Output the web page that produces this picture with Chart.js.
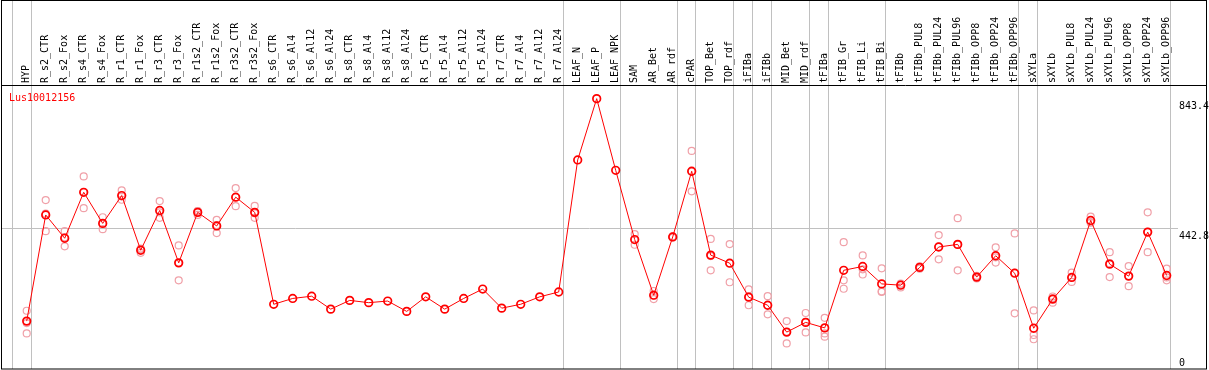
<!DOCTYPE html>
<html>
<head>
<meta charset="utf-8">
<script src="https://cdn.jsdelivr.net/npm/chart.js@4"></script>
<style>
  body { margin: 0; background: #fff; }
  #wrap { width: 1209px; height: 370px; }
</style>
</head>
<body>
<div id="wrap"><canvas id="exprChart" width="1209" height="370"></canvas></div>
<script>
/* ---------- Data ---------- */
const geneName = "Lus10012156";

const samples = [
    "HYP", "R_s2_CTR", "R_s2_Fox", "R_s4_CTR", "R_s4_Fox", "R_r1_CTR", "R_r1_Fox",
    "R_r3_CTR", "R_r3_Fox", "R_r1s2_CTR", "R_r1s2_Fox", "R_r3s2_CTR", "R_r3s2_Fox",
    "R_s6_CTR", "R_s6_Al4", "R_s6_Al12", "R_s6_Al24", "R_s8_CTR", "R_s8_Al4", "R_s8_Al12",
    "R_s8_Al24", "R_r5_CTR", "R_r5_Al4", "R_r5_Al12", "R_r5_Al24", "R_r7_CTR", "R_r7_Al4",
    "R_r7_Al12", "R_r7_Al24", "LEAF_N", "LEAF_P", "LEAF_NPK", "SAM", "AR_Bet", "AR_rdf",
    "cPAR", "TOP_Bet", "TOP_rdf", "iFIBa", "iFIBb", "MID_Bet", "MID_rdf", "tFIBa",
    "tFIB_Gr", "tFIB_Li", "tFIB_Bi", "tFIBb", "tFIBb_PUL8", "tFIBb_PUL24", "tFIBb_PUL96",
    "tFIBb_OPP8", "tFIBb_OPP24", "tFIBb_OPP96", "sXYLa", "sXYLb", "sXYLb_PUL8",
    "sXYLb_PUL24", "sXYLb_PUL96", "sXYLb_OPP8", "sXYLb_OPP24", "sXYLb_OPP96"
];

const means = [
    156, 484, 412, 554, 458, 544, 375, 498, 336, 492, 450, 539, 492,
    208, 226, 233, 193, 220, 213, 218, 186, 231, 193, 226, 255, 196, 208, 231, 246,
    654, 843.4, 622, 408, 236, 416, 619, 360, 335, 230, 205, 122, 152, 135,
    313, 325, 271, 267, 322, 385, 393, 292, 358, 304, 134, 224, 291,
    467, 332, 295, 431, 297
];

const rep1 = [
    188, 530, 434, 603, 477, 560, 378, 527, 390, 496, 469, 567, 512,
    null, null, null, null, null, null, null, null, null, null, null, null, null, null, null, null,
    null, null, null, 425, 249, 418, 682, 410, 394, 254, 233, 156, 181, 166,
    400, 359, 319, 260, 318, 422, 474, 288, 384, 427, 189, 232, 306,
    479, 369, 326, 492, 318
];

const rep2 = [
    150, 434, 387, 505, 440, 531, 367, 475, 282, 484, 428, 511, 475,
    null, null, null, null, null, null, null, null, null, null, null, null, null, null, null, null,
    null, null, null, 392, 224, 414, 557, 313, 276, 205, 177, 87, 121, 118,
    282, 300, 248, 272, 325, 347, 313, 296, 337, 180, 113, 213, 277,
    462, 292, 264, 369, 282
];

const rep3 = [
    118, 488, 415, 554, 457, 541, 380, 492, 336, 496, 453, 539, 489,
    null, null, null, null, null, null, null, null, null, null, null, null, null, null, null, null,
    null, null, null, 407, 235, 416, 618, 357, 335, 231, 205, 123, 154, 108,
    256, 316, 246, 269, 323, 386, 392, 292, 353, 305, 100, 227, 290,
    460, 335, 295, 432, 291
];

// index of the last sample in each block (separator drawn right after it)
const groupEnds = [-1, 0, 28, 31, 34, 35, 37, 38, 39, 41, 42, 45, 52, 53, 60];

const yMax = 885.6;
const yMin = 8;
const yTickValues = [0, 442.8, 843.4];

/* ---------- Helpers ---------- */
const MONO = "'DejaVu Sans Mono', monospace";

function toPoints(arr) {
    return arr.map((v, i) => ({ x: i, y: v }));
}

/* ---------- Decorations ---------- */
const framePlugin = {
    id: "frame",
    beforeDatasetsDraw(chart) {
        const ctx = chart.ctx;
        const xs = chart.scales.x;
        ctx.save();
        ctx.strokeStyle = "#c0c0c0";
        ctx.lineWidth = 1;
        groupEnds.forEach(i => {
            const px = Math.round(xs.getPixelForValue(i + 0.2)) + 0.5;
            ctx.beginPath();
            ctx.moveTo(px, 0);
            ctx.lineTo(px, chart.chartArea.bottom);
            ctx.stroke();
        });
        ctx.restore();
    },
    afterDraw(chart) {
        const ctx = chart.ctx;
        const area = chart.chartArea;
        const ys = chart.scales.y;
        ctx.save();

        // border and header separator
        ctx.strokeStyle = "#000";
        ctx.lineWidth = 1;
        ctx.strokeRect(1.5, 0.5, 1205, area.bottom - 0.5);
        ctx.beginPath();
        ctx.moveTo(1, area.top + 0.5);
        ctx.lineTo(1207, area.top + 0.5);
        ctx.stroke();

        // gene name
        ctx.fillStyle = "#ff0000";
        ctx.font = "10px " + MONO;
        ctx.textBaseline = "alphabetic";
        ctx.textAlign = "left";
        ctx.fillText(geneName, 9, area.top + 16);

        // y tick labels
        ctx.fillStyle = "#000";
        ctx.textBaseline = "top";
        yTickValues.forEach(v => {
            const py = Math.min(ys.getPixelForValue(v) + 3, area.bottom - 11);
            ctx.fillText(String(v), area.right + 1, py);
        });
        ctx.restore();
    }
};

/* ---------- Chart ---------- */
const repStyle = {
    type: "scatter",
    showLine: false,
    pointRadius: 3.5,
    pointBorderWidth: 1.2,
    pointBorderColor: "#f0a0a8",
    pointBackgroundColor: "rgba(0,0,0,0)",
    clip: false,
    order: 2
};

new Chart(document.getElementById("exprChart"), {
    type: "line",
    data: {
        datasets: [
            {
                label: "mean",
                data: toPoints(means),
                borderColor: "#ff0000",
                borderWidth: 1,
                tension: 0,
                pointRadius: 3.8,
                pointBorderWidth: 1.7,
                pointBorderColor: "#ff0000",
                pointBackgroundColor: "rgba(0,0,0,0)",
                clip: false,
                order: 1
            },
            { ...repStyle, label: "rep1", data: toPoints(rep1) },
            { ...repStyle, label: "rep2", data: toPoints(rep2) },
            { ...repStyle, label: "rep3", data: toPoints(rep3) }
        ]
    },
    options: {
        responsive: false,
        animation: false,
        devicePixelRatio: 1,
        layout: {
            autoPadding: false,
            padding: { left: 1, right: 31, top: 0, bottom: 1 }
        },
        plugins: {
            legend: { display: false },
            tooltip: { enabled: false }
        },
        scales: {
            x: {
                type: "linear",
                position: "top",
                min: -1.353,
                max: 60.595,
                grid: { display: false, drawTicks: false },
                border: { display: false },
                afterBuildTicks: s => { s.ticks = samples.map((_, i) => ({ value: i })); },
                afterFit: s => {
                    s.height = 85;
                    s.paddingLeft = 0;
                    s.paddingRight = 0;
                },
                ticks: {
                    autoSkip: false,
                    minRotation: 90,
                    maxRotation: 90,
                    padding: 2,
                    labelOffset: 12,
                    color: "#000",
                    font: { family: MONO, size: 10 },
                    callback: v => samples[v]
                }
            },
            y: {
                type: "linear",
                position: "right",
                min: yMin,
                max: yMax,
                afterBuildTicks: s => { s.ticks = [{ value: yTickValues[1] }]; },
                afterFit: s => { s.width = 0; },
                ticks: { display: false },
                grid: { color: "#c0c0c0", drawTicks: false },
                border: { display: false }
            }
        }
    },
    plugins: [framePlugin]
});
</script>
</body>
</html>
